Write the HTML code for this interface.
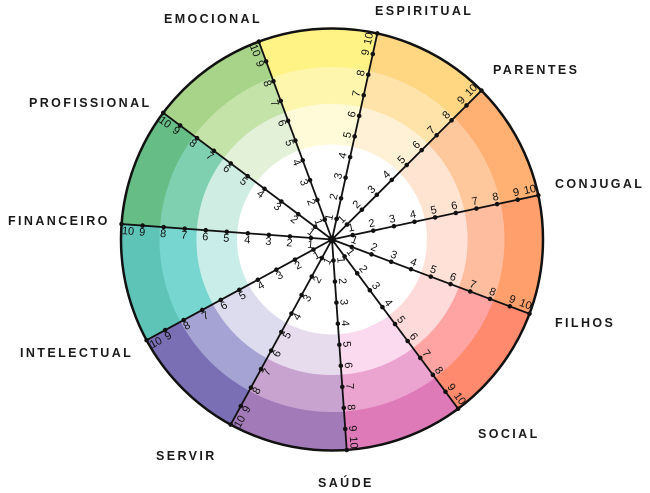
<!DOCTYPE html>
<html><head><meta charset="utf-8"><style>
html,body{margin:0;padding:0;background:#fff;}
svg{display:block;}
.lb{font-family:"Liberation Sans",sans-serif;font-weight:bold;font-size:12.5px;letter-spacing:2.4px;fill:#1a1a1a;}
.n text{font-family:"Liberation Sans",sans-serif;font-size:11px;fill:#111;text-anchor:middle;dominant-baseline:central;}
</style></head><body>
<svg width="650" height="493" viewBox="0 0 650 493" xmlns="http://www.w3.org/2000/svg">
<text class="lb" x="164" y="23">EMOCIONAL</text>
<text class="lb" x="375" y="15">ESPIRITUAL</text>
<text class="lb" x="493" y="74">PARENTES</text>
<text class="lb" x="555" y="188">CONJUGAL</text>
<text class="lb" x="555" y="327">FILHOS</text>
<text class="lb" x="478" y="438">SOCIAL</text>
<text class="lb" x="318" y="487">SAÚDE</text>
<text class="lb" x="156" y="460">SERVIR</text>
<text class="lb" x="20" y="357">INTELECTUAL</text>
<text class="lb" x="8" y="225">FINANCEIRO</text>
<text class="lb" x="29" y="107">PROFISSIONAL</text>
<g transform="translate(332 239.5)">
<defs>
<path id="w1" d="M0 0L211 0A211 211 0 0 1 177.5 114.1Z"/>
<path id="w2" d="M0 0L172 0A172 172 0 0 1 144.7 93Z"/>
<path id="w3" d="M0 0L135 0A135 135 0 0 1 113.6 73Z"/>
</defs>
<g transform="rotate(-110.3)"><use href="#w1" fill="#fff386" stroke="#fff386"/><use href="#w2" fill="#fff6ad" stroke="#fff6ad"/><use href="#w3" fill="#fffbd9" stroke="#fffbd9"/></g>
<g transform="rotate(-77.6)"><use href="#w1" fill="#ffd682" stroke="#ffd682"/><use href="#w2" fill="#ffe3a8" stroke="#ffe3a8"/><use href="#w3" fill="#fff1d6" stroke="#fff1d6"/></g>
<g transform="rotate(-44.9)"><use href="#w1" fill="#ffb072" stroke="#ffb072"/><use href="#w2" fill="#ffc89c" stroke="#ffc89c"/><use href="#w3" fill="#ffe4d1" stroke="#ffe4d1"/></g>
<g transform="rotate(-12.1)"><use href="#w1" fill="#ff9f6c" stroke="#ff9f6c"/><use href="#w2" fill="#ffbda0" stroke="#ffbda0"/><use href="#w3" fill="#ffe1d8" stroke="#ffe1d8"/></g>
<g transform="rotate(20.6)"><use href="#w1" fill="#ff8a6e" stroke="#ff8a6e"/><use href="#w2" fill="#ffa3a3" stroke="#ffa3a3"/><use href="#w3" fill="#ffdadb" stroke="#ffdadb"/></g>
<g transform="rotate(53.3)"><use href="#w1" fill="#de7ab8" stroke="#de7ab8"/><use href="#w2" fill="#eba3cf" stroke="#eba3cf"/><use href="#w3" fill="#fbdaf0" stroke="#fbdaf0"/></g>
<g transform="rotate(86)"><use href="#w1" fill="#a27ab8" stroke="#a27ab8"/><use href="#w2" fill="#c8a3cf" stroke="#c8a3cf"/><use href="#w3" fill="#e6dcee" stroke="#e6dcee"/></g>
<g transform="rotate(118.7)"><use href="#w1" fill="#7a6fb5" stroke="#7a6fb5"/><use href="#w2" fill="#a5a3d3" stroke="#a5a3d3"/><use href="#w3" fill="#dcdcee" stroke="#dcdcee"/></g>
<g transform="rotate(151.5)"><use href="#w1" fill="#5fc4b8" stroke="#5fc4b8"/><use href="#w2" fill="#77d6cf" stroke="#77d6cf"/><use href="#w3" fill="#c9ede9" stroke="#c9ede9"/></g>
<g transform="rotate(184.2)"><use href="#w1" fill="#66bd86" stroke="#66bd86"/><use href="#w2" fill="#7fd0b0" stroke="#7fd0b0"/><use href="#w3" fill="#d0ede3" stroke="#d0ede3"/></g>
<g transform="rotate(216.9)"><use href="#w1" fill="#a8d48a" stroke="#a8d48a"/><use href="#w2" fill="#c4e3a9" stroke="#c4e3a9"/><use href="#w3" fill="#e3f1d9" stroke="#e3f1d9"/></g>
<circle r="95" fill="#fff"/>

<g class="n" transform="rotate(-110.3)"><line x1="0" y1="0" x2="211" y2="0" stroke="#111" stroke-width="1.8"/><g fill="#111"><circle cx="21.1" r="2.3"/><circle cx="42.2" r="2.3"/><circle cx="63.3" r="2.3"/><circle cx="84.4" r="2.3"/><circle cx="105.5" r="2.3"/><circle cx="126.6" r="2.3"/><circle cx="147.7" r="2.3"/><circle cx="168.8" r="2.3"/><circle cx="189.9" r="2.3"/><circle cx="211" r="2.3"/></g>
<text x="21.1" y="-7" transform="rotate(180 21.1 -7)">1</text><text x="42.2" y="-7" transform="rotate(180 42.2 -7)">2</text><text x="63.3" y="-7" transform="rotate(180 63.3 -7)">3</text><text x="84.4" y="-7" transform="rotate(180 84.4 -7)">4</text><text x="105.5" y="-7" transform="rotate(180 105.5 -7)">5</text><text x="126.6" y="-7" transform="rotate(180 126.6 -7)">6</text><text x="147.7" y="-7" transform="rotate(180 147.7 -7)">7</text><text x="168.8" y="-7" transform="rotate(180 168.8 -7)">8</text><text x="189.9" y="-7" transform="rotate(180 189.9 -7)">9</text><text x="204" y="-7" transform="rotate(180 204 -7)">10</text></g>

<g class="n" transform="rotate(-77.6)"><line x1="0" y1="0" x2="211" y2="0" stroke="#111" stroke-width="1.8"/><g fill="#111"><circle cx="21.1" r="2.3"/><circle cx="42.2" r="2.3"/><circle cx="63.3" r="2.3"/><circle cx="84.4" r="2.3"/><circle cx="105.5" r="2.3"/><circle cx="126.6" r="2.3"/><circle cx="147.7" r="2.3"/><circle cx="168.8" r="2.3"/><circle cx="189.9" r="2.3"/><circle cx="211" r="2.3"/></g>
<text x="21.1" y="-7">1</text><text x="42.2" y="-7">2</text><text x="63.3" y="-7">3</text><text x="84.4" y="-7">4</text><text x="105.5" y="-7">5</text><text x="126.6" y="-7">6</text><text x="147.7" y="-7">7</text><text x="168.8" y="-7">8</text><text x="189.9" y="-7">9</text><text x="204" y="-7">10</text></g>

<g class="n" transform="rotate(-44.9)"><line x1="0" y1="0" x2="211" y2="0" stroke="#111" stroke-width="1.8"/><g fill="#111"><circle cx="21.1" r="2.3"/><circle cx="42.2" r="2.3"/><circle cx="63.3" r="2.3"/><circle cx="84.4" r="2.3"/><circle cx="105.5" r="2.3"/><circle cx="126.6" r="2.3"/><circle cx="147.7" r="2.3"/><circle cx="168.8" r="2.3"/><circle cx="189.9" r="2.3"/><circle cx="211" r="2.3"/></g>
<text x="21.1" y="-7">1</text><text x="42.2" y="-7">2</text><text x="63.3" y="-7">3</text><text x="84.4" y="-7">4</text><text x="105.5" y="-7">5</text><text x="126.6" y="-7">6</text><text x="147.7" y="-7">7</text><text x="168.8" y="-7">8</text><text x="189.9" y="-7">9</text><text x="204" y="-7">10</text></g>

<g class="n" transform="rotate(-12.1)"><line x1="0" y1="0" x2="211" y2="0" stroke="#111" stroke-width="1.8"/><g fill="#111"><circle cx="21.1" r="2.3"/><circle cx="42.2" r="2.3"/><circle cx="63.3" r="2.3"/><circle cx="84.4" r="2.3"/><circle cx="105.5" r="2.3"/><circle cx="126.6" r="2.3"/><circle cx="147.7" r="2.3"/><circle cx="168.8" r="2.3"/><circle cx="189.9" r="2.3"/><circle cx="211" r="2.3"/></g>
<text x="21.1" y="-7">1</text><text x="42.2" y="-7">2</text><text x="63.3" y="-7">3</text><text x="84.4" y="-7">4</text><text x="105.5" y="-7">5</text><text x="126.6" y="-7">6</text><text x="147.7" y="-7">7</text><text x="168.8" y="-7">8</text><text x="189.9" y="-7">9</text><text x="204" y="-7">10</text></g>

<g class="n" transform="rotate(20.6)"><line x1="0" y1="0" x2="211" y2="0" stroke="#111" stroke-width="1.8"/><g fill="#111"><circle cx="21.1" r="2.3"/><circle cx="42.2" r="2.3"/><circle cx="63.3" r="2.3"/><circle cx="84.4" r="2.3"/><circle cx="105.5" r="2.3"/><circle cx="126.6" r="2.3"/><circle cx="147.7" r="2.3"/><circle cx="168.8" r="2.3"/><circle cx="189.9" r="2.3"/><circle cx="211" r="2.3"/></g>
<text x="21.1" y="-7">1</text><text x="42.2" y="-7">2</text><text x="63.3" y="-7">3</text><text x="84.4" y="-7">4</text><text x="105.5" y="-7">5</text><text x="126.6" y="-7">6</text><text x="147.7" y="-7">7</text><text x="168.8" y="-7">8</text><text x="189.9" y="-7">9</text><text x="204" y="-7">10</text></g>

<g class="n" transform="rotate(53.3)"><line x1="0" y1="0" x2="211" y2="0" stroke="#111" stroke-width="1.8"/><g fill="#111"><circle cx="21.1" r="2.3"/><circle cx="42.2" r="2.3"/><circle cx="63.3" r="2.3"/><circle cx="84.4" r="2.3"/><circle cx="105.5" r="2.3"/><circle cx="126.6" r="2.3"/><circle cx="147.7" r="2.3"/><circle cx="168.8" r="2.3"/><circle cx="189.9" r="2.3"/><circle cx="211" r="2.3"/></g>
<text x="21.1" y="-7">1</text><text x="42.2" y="-7">2</text><text x="63.3" y="-7">3</text><text x="84.4" y="-7">4</text><text x="105.5" y="-7">5</text><text x="126.6" y="-7">6</text><text x="147.7" y="-7">7</text><text x="168.8" y="-7">8</text><text x="189.9" y="-7">9</text><text x="204" y="-7">10</text></g>

<g class="n" transform="rotate(86)"><line x1="0" y1="0" x2="211" y2="0" stroke="#111" stroke-width="1.8"/><g fill="#111"><circle cx="21.1" r="2.3"/><circle cx="42.2" r="2.3"/><circle cx="63.3" r="2.3"/><circle cx="84.4" r="2.3"/><circle cx="105.5" r="2.3"/><circle cx="126.6" r="2.3"/><circle cx="147.7" r="2.3"/><circle cx="168.8" r="2.3"/><circle cx="189.9" r="2.3"/><circle cx="211" r="2.3"/></g>
<text x="21.1" y="-7">1</text><text x="42.2" y="-7">2</text><text x="63.3" y="-7">3</text><text x="84.4" y="-7">4</text><text x="105.5" y="-7">5</text><text x="126.6" y="-7">6</text><text x="147.7" y="-7">7</text><text x="168.8" y="-7">8</text><text x="189.9" y="-7">9</text><text x="204" y="-7">10</text></g>

<g class="n" transform="rotate(118.7)"><line x1="0" y1="0" x2="211" y2="0" stroke="#111" stroke-width="1.8"/><g fill="#111"><circle cx="21.1" r="2.3"/><circle cx="42.2" r="2.3"/><circle cx="63.3" r="2.3"/><circle cx="84.4" r="2.3"/><circle cx="105.5" r="2.3"/><circle cx="126.6" r="2.3"/><circle cx="147.7" r="2.3"/><circle cx="168.8" r="2.3"/><circle cx="189.9" r="2.3"/><circle cx="211" r="2.3"/></g>
<text x="21.1" y="-7" transform="rotate(180 21.1 -7)">1</text><text x="42.2" y="-7" transform="rotate(180 42.2 -7)">2</text><text x="63.3" y="-7" transform="rotate(180 63.3 -7)">3</text><text x="84.4" y="-7" transform="rotate(180 84.4 -7)">4</text><text x="105.5" y="-7" transform="rotate(180 105.5 -7)">5</text><text x="126.6" y="-7" transform="rotate(180 126.6 -7)">6</text><text x="147.7" y="-7" transform="rotate(180 147.7 -7)">7</text><text x="168.8" y="-7" transform="rotate(180 168.8 -7)">8</text><text x="189.9" y="-7" transform="rotate(180 189.9 -7)">9</text><text x="204" y="-7" transform="rotate(180 204 -7)">10</text></g>

<g class="n" transform="rotate(151.5)"><line x1="0" y1="0" x2="211" y2="0" stroke="#111" stroke-width="1.8"/><g fill="#111"><circle cx="21.1" r="2.3"/><circle cx="42.2" r="2.3"/><circle cx="63.3" r="2.3"/><circle cx="84.4" r="2.3"/><circle cx="105.5" r="2.3"/><circle cx="126.6" r="2.3"/><circle cx="147.7" r="2.3"/><circle cx="168.8" r="2.3"/><circle cx="189.9" r="2.3"/><circle cx="211" r="2.3"/></g>
<text x="21.1" y="-7" transform="rotate(180 21.1 -7)">1</text><text x="42.2" y="-7" transform="rotate(180 42.2 -7)">2</text><text x="63.3" y="-7" transform="rotate(180 63.3 -7)">3</text><text x="84.4" y="-7" transform="rotate(180 84.4 -7)">4</text><text x="105.5" y="-7" transform="rotate(180 105.5 -7)">5</text><text x="126.6" y="-7" transform="rotate(180 126.6 -7)">6</text><text x="147.7" y="-7" transform="rotate(180 147.7 -7)">7</text><text x="168.8" y="-7" transform="rotate(180 168.8 -7)">8</text><text x="189.9" y="-7" transform="rotate(180 189.9 -7)">9</text><text x="204" y="-7" transform="rotate(180 204 -7)">10</text></g>

<g class="n" transform="rotate(184.2)"><line x1="0" y1="0" x2="211" y2="0" stroke="#111" stroke-width="1.8"/><g fill="#111"><circle cx="21.1" r="2.3"/><circle cx="42.2" r="2.3"/><circle cx="63.3" r="2.3"/><circle cx="84.4" r="2.3"/><circle cx="105.5" r="2.3"/><circle cx="126.6" r="2.3"/><circle cx="147.7" r="2.3"/><circle cx="168.8" r="2.3"/><circle cx="189.9" r="2.3"/><circle cx="211" r="2.3"/></g>
<text x="21.1" y="-7" transform="rotate(180 21.1 -7)">1</text><text x="42.2" y="-7" transform="rotate(180 42.2 -7)">2</text><text x="63.3" y="-7" transform="rotate(180 63.3 -7)">3</text><text x="84.4" y="-7" transform="rotate(180 84.4 -7)">4</text><text x="105.5" y="-7" transform="rotate(180 105.5 -7)">5</text><text x="126.6" y="-7" transform="rotate(180 126.6 -7)">6</text><text x="147.7" y="-7" transform="rotate(180 147.7 -7)">7</text><text x="168.8" y="-7" transform="rotate(180 168.8 -7)">8</text><text x="189.9" y="-7" transform="rotate(180 189.9 -7)">9</text><text x="204" y="-7" transform="rotate(180 204 -7)">10</text></g>

<g class="n" transform="rotate(216.9)"><line x1="0" y1="0" x2="211" y2="0" stroke="#111" stroke-width="1.8"/><g fill="#111"><circle cx="21.1" r="2.3"/><circle cx="42.2" r="2.3"/><circle cx="63.3" r="2.3"/><circle cx="84.4" r="2.3"/><circle cx="105.5" r="2.3"/><circle cx="126.6" r="2.3"/><circle cx="147.7" r="2.3"/><circle cx="168.8" r="2.3"/><circle cx="189.9" r="2.3"/><circle cx="211" r="2.3"/></g>
<text x="21.1" y="-7" transform="rotate(180 21.1 -7)">1</text><text x="42.2" y="-7" transform="rotate(180 42.2 -7)">2</text><text x="63.3" y="-7" transform="rotate(180 63.3 -7)">3</text><text x="84.4" y="-7" transform="rotate(180 84.4 -7)">4</text><text x="105.5" y="-7" transform="rotate(180 105.5 -7)">5</text><text x="126.6" y="-7" transform="rotate(180 126.6 -7)">6</text><text x="147.7" y="-7" transform="rotate(180 147.7 -7)">7</text><text x="168.8" y="-7" transform="rotate(180 168.8 -7)">8</text><text x="189.9" y="-7" transform="rotate(180 189.9 -7)">9</text><text x="204" y="-7" transform="rotate(180 204 -7)">10</text></g>

<circle r="4" fill="#111"/>
<circle r="211" fill="none" stroke="#111" stroke-width="2.5"/>
</g>
</svg>
</body></html>
